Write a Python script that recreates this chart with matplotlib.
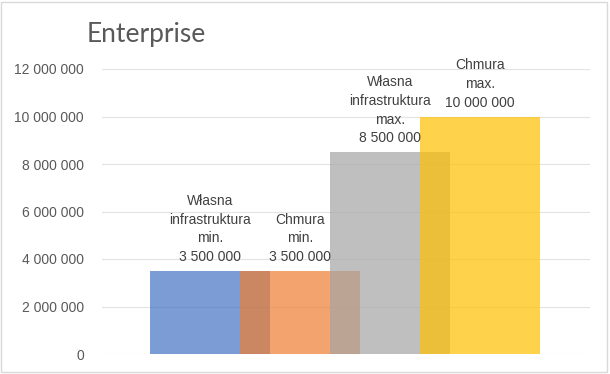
"""Enterprise cost comparison: own infrastructure vs cloud (min / max)."""

import matplotlib

matplotlib.use("Agg")
import matplotlib.pyplot as plt
from matplotlib.patches import Rectangle

categories = [
    "Własna\ninfrastruktura\nmin.",
    "Chmura\nmin.",
    "Własna\ninfrastruktura\nmax.",
    "Chmura\nmax.",
]
values = [3500000, 3500000, 8500000, 10000000]
colors = ["#4472C4", "#ED7D31", "#A5A5A5", "#FFC000"]
y_ticks = [0, 2000000, 4000000, 6000000, 8000000, 10000000, 12000000]


def fmt(v):
    return f"{v:,}".replace(",", " ")


plt.rcParams["font.family"] = ["Liberation Sans", "DejaVu Sans"]

fig = plt.figure(figsize=(6.1, 3.74), dpi=100)
ax = fig.add_axes([102 / 610, 1 - 354 / 374, 488 / 610, 285 / 374])

# bars overlap: each one is wider than the category step
for i, (label, value, color) in enumerate(zip(categories, values, colors)):
    ax.bar(i, value, width=4 / 3, color=color, alpha=0.7, zorder=2 + i)
    ax.annotate(
        f"{label}\n{fmt(value)}",
        (i, value),
        xytext=(0, 5),
        textcoords="offset points",
        ha="center",
        va="bottom",
        fontsize=10,
        color="#404040",
        linespacing=1.42,
        zorder=10,
    )

ax.set_xlim(-1.2, 4.22)
ax.set_ylim(0, 12000000)
ax.set_yticks(y_ticks)
ax.set_yticklabels([fmt(t) for t in y_ticks])
ax.set_xticks([])
ax.tick_params(axis="y", length=0, pad=13, labelsize=10, labelcolor="#595959")
ax.grid(axis="y", color="#E3E3E3", linewidth=0.8, zorder=0)
for spine in ax.spines.values():
    spine.set_visible(False)
ax.set_axisbelow(True)

fig.text(87 / 610, 1 - 42 / 374, "Enterprise", fontsize=19, color="#595959",
         family=["Lato", "Liberation Sans"], fontweight="normal",
         va="baseline", ha="left")

# chart area border
fig.patches.append(Rectangle((1 / 610, 2 / 374), 606 / 610, 370 / 374,
                             transform=fig.transFigure, fill=False,
                             edgecolor="#D9D9D9", linewidth=1))

fig.savefig("out.png", dpi=100)
